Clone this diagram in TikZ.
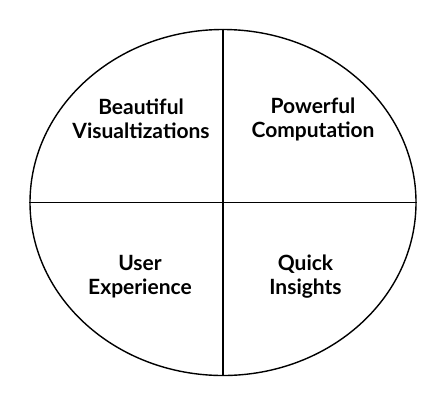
\documentclass[tikz,border=0pt]{standalone}
\usepackage{fontspec}
\setmainfont{Lato}
\usetikzlibrary{shapes.geometric}
\begin{document}
\begin{tikzpicture}[x=1pt,y=-1pt,
  lbl/.style={font=\bfseries\fontsize{21}{24}\selectfont, align=center, text=black},
  edge/.style={draw=black, line width=1.4pt}]
\useasboundingbox (0,0) rectangle (446,405);
\node[draw=black, line width=1.4pt, ellipse, minimum width=386pt, minimum height=346pt, inner sep=0pt] (e) at (223,202.5) {};
\draw[edge] (e.north) -- (e.south);
\draw[edge] (e.west) -- (e.east);
\node[lbl] (bv) at (141,119) {Beautiful\\Visualtizations};
\node[lbl] (pc) at (313,119) {Powerful\\Computation};
\node[lbl] (ux) at (140,277) {User\\Experience};
\node[lbl] (qi) at (305.5,277) {Quick\\Insights};
\end{tikzpicture}
\end{document}
